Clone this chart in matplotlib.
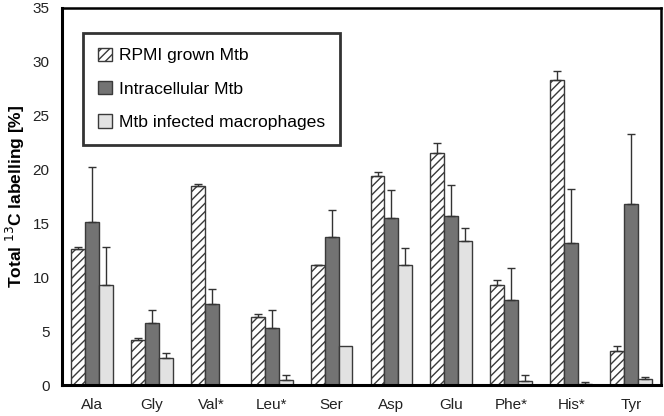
import numpy as np
import matplotlib.pyplot as plt

plt.rcParams['font.family'] = ['Liberation Sans', 'DejaVu Sans']
plt.rcParams['hatch.linewidth'] = 1.0

amino_acids = ['Ala', 'Gly', 'Val*', 'Leu*', 'Ser', 'Asp', 'Glu', 'Phe*', 'His*', 'Tyr']

rpmi = [12.6, 4.2, 18.5, 6.3, 11.1, 19.4, 21.5, 9.3, 28.3, 3.2]
rpmi_err = [0.25, 0.2, 0.2, 0.25, 0.05, 0.4, 1.0, 0.4, 0.8, 0.4]

intra = [15.1, 5.8, 7.5, 5.3, 13.7, 15.5, 15.7, 7.9, 13.2, 16.8]
intra_err = [5.1, 1.2, 1.4, 1.7, 2.5, 2.6, 2.9, 3.0, 5.0, 6.5]

macro = [9.3, 2.5, 0.0, 0.5, 3.6, 11.1, 13.4, 0.4, 0.1, 0.6]
macro_err = [3.5, 0.5, 0.0, 0.4, 0.0, 1.6, 1.2, 0.5, 0.2, 0.1]

fig = plt.figure(figsize=(6.64, 4.16), dpi=100)
ax = fig.add_axes([0.0934, 0.0745, 0.9021, 0.9065])

x = np.arange(len(amino_acids))
w = 0.233
edge = '#3a3a3a'
err_kw = dict(ecolor='#333333', elinewidth=1, capsize=3, capthick=1)

ax.bar(x - w, rpmi, w, color='white', edgecolor=edge, hatch='////', linewidth=1,
       label='RPMI grown Mtb')
ax.errorbar(x - w, rpmi, yerr=[np.zeros(len(x)), rpmi_err], fmt='none', **err_kw)

ax.bar(x, intra, w, color='#737373', edgecolor=edge, linewidth=1,
       label='Intracellular Mtb')
ax.errorbar(x, intra, yerr=[np.zeros(len(x)), intra_err], fmt='none', **err_kw)

ax.bar(x + w, macro, w, color='#e2e2e2', edgecolor=edge, linewidth=1,
       label='Mtb infected macrophages')
# macrophage bars without spread get no error bar
m_err = [(xi, v, e) for xi, v, e in zip(x + w, macro, macro_err) if e > 0]
ax.errorbar([a for a, _, _ in m_err], [b for _, b, _ in m_err],
            yerr=[np.zeros(len(m_err)), [c for _, _, c in m_err]], fmt='none', **err_kw)

ax.set_xlim(-0.5, len(x) - 0.5)
ax.set_ylim(0, 35)
ax.set_yticks(range(0, 36, 5))
ax.set_xticks(x)
ax.set_xticklabels(amino_acids)
ax.tick_params(axis='both', length=0, labelsize=11, colors='#222222')
ax.tick_params(axis='x', pad=9)
ax.tick_params(axis='y', pad=9)
ax.set_ylabel('Total $^{13}$C labelling [%]', fontsize=12.5, fontweight='bold')

for s in ['left', 'bottom']:
    ax.spines[s].set_linewidth(2.2)
for s in ['top', 'right']:
    ax.spines[s].set_linewidth(1.8)

leg = ax.legend(loc='upper left', bbox_to_anchor=(0.035, 0.934), fontsize=12.6,
                frameon=True, fancybox=False, handlelength=0.8, handleheight=0.8,
                handletextpad=0.4, labelspacing=1.0, borderpad=0.85,
                borderaxespad=0)
leg.get_frame().set_edgecolor('black')
leg.get_frame().set_linewidth(2)

fig.savefig('out.png', dpi=100)
